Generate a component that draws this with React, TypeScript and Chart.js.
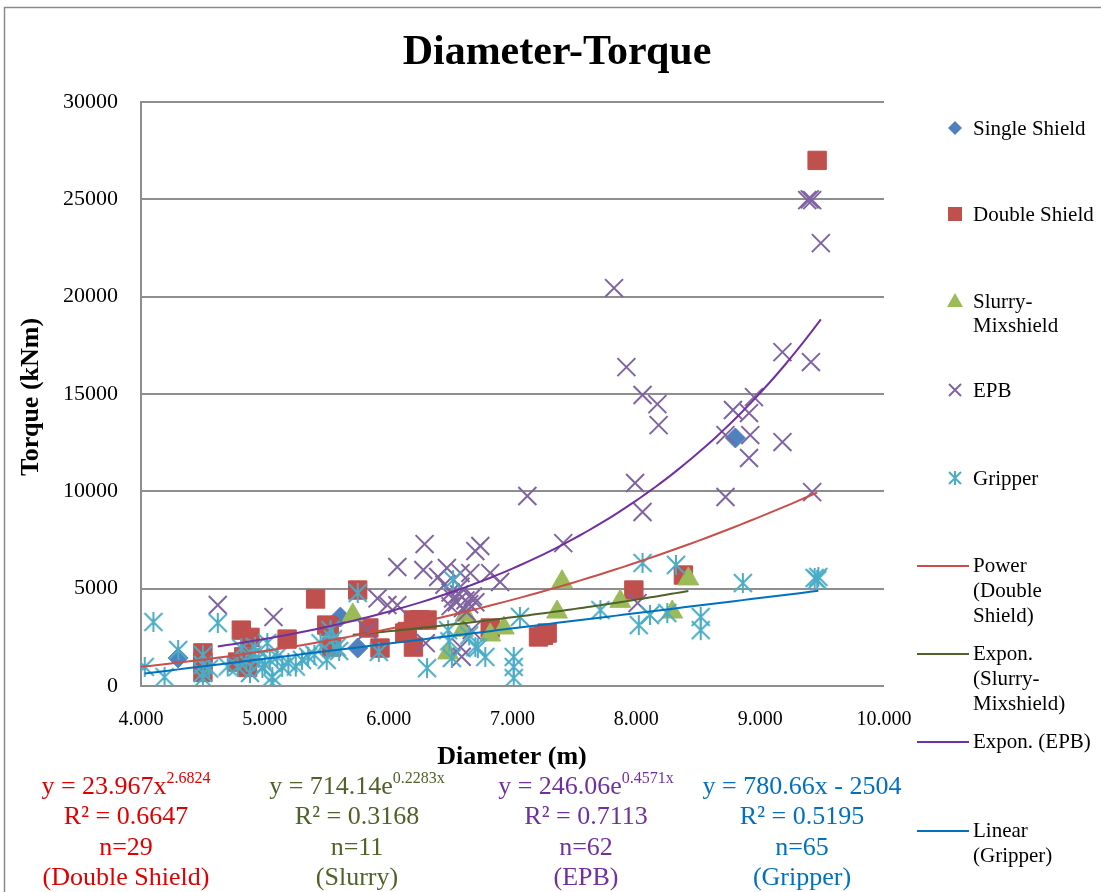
import React, { useEffect, useRef } from 'react';
import { Chart, registerables } from 'chart.js';

Chart.register(...registerables);

// ---------- data ----------
const singleShieldX = [4.30, 5.61, 5.75, 8.80];
const singleShieldY = [1440, 3540, 1950, 12740];

const doubleShieldX = [4.50, 4.50, 4.50, 4.81, 4.88, 4.78, 4.86, 5.18, 5.41, 5.50, 5.54, 5.75, 5.84, 5.93, 6.13, 6.20, 6.20, 6.31, 6.82, 7.21, 7.28, 7.98, 8.38, 9.46, 6.25, 5.52, 4.83, 7.25, 6.15];
const doubleShieldY = [1700, 700, 1200, 2870, 2500, 1230, 950, 2410, 4470, 3130, 2000, 4930, 2980, 1950, 2720, 2000, 3390, 3390, 2980, 2520, 2720, 4930, 5700, 27000, 3400, 3050, 1500, 2600, 2800];

const slurryX = [5.71, 6.48, 6.60, 6.62, 6.82, 6.93, 7.36, 7.40, 7.87, 8.29, 8.42];
const slurryY = [3650, 1700, 2870, 3650, 2620, 2980, 3800, 5350, 4350, 3800, 5500];

const epbX = [4.62, 5.07, 5.83, 5.91, 5.99, 6.07, 6.07, 6.28, 6.29, 6.30, 6.47, 6.58, 6.66, 6.70, 6.74, 6.82, 6.90, 6.59, 6.58, 6.67,
  6.45, 6.50, 6.52, 6.55, 6.57, 6.60, 6.62, 6.65, 6.68, 6.50, 6.58, 6.63, 6.40, 6.70,
  7.12, 7.41, 7.82, 7.92, 7.99, 8.01, 8.05, 8.05, 8.17, 8.18, 8.72, 8.72, 8.78, 8.91, 8.92, 8.91, 8.95, 9.18, 9.18, 9.38, 9.42, 9.40, 9.41, 9.42, 9.49];
const epbY = [4160, 3540, 2870, 4500, 4160, 6110, 4150, 5960, 7290, 2200, 6060, 5800, 5800, 6930, 7190, 5800, 5340, 1500, 2000, 2870,
  5200, 4800, 4500, 4300, 4700, 4000, 4400, 4200, 4600, 4100, 5100, 3800, 5600, 4300,
  9760, 7340, 20440, 16380, 10430, 4260, 14950, 8940, 14480, 13400, 12890, 9710, 14180, 14020, 12890, 11710, 14840, 12530, 17150, 24960, 24960, 25000, 16640, 9960, 22750];

const gripperX = [4.03, 4.10, 4.19, 4.30, 4.50, 4.50, 4.50, 4.50, 4.62, 4.81, 4.78, 4.88, 4.95, 4.98, 5.02, 5.04, 5.06, 5.06, 5.14, 5.19, 5.30, 5.50, 5.53, 5.58, 5.75, 5.92, 6.31, 6.51, 6.52, 6.48, 6.70, 6.72, 6.78, 7.06, 7.01, 7.01, 7.01, 7.71, 8.05, 8.32, 8.86, 9.44, 9.47, 9.46, 8.02, 8.11, 8.25, 8.52, 8.52,
  4.90, 5.00, 5.10, 4.92, 4.85, 5.40, 5.60, 4.70, 5.25, 5.45, 5.55, 6.49, 6.65, 4.55, 5.35];
const gripperY = [980, 3290, 460, 1850, 1590, 1080, 670, 400, 3240, 1940, 980, 670, 1440, 920, 2210, 1340, 460, 150, 980, 1180, 1340, 1340, 2870, 2000, 4780, 1750, 920, 1440, 5440, 2870, 2000, 1950, 1490, 3550, 1490, 980, 410, 3900, 6320, 6220, 5290, 5550, 5600, 5450, 3130, 3650, 3750, 3550, 2870,
  1600, 1100, 1500, 2000, 1250, 1600, 1800, 1000, 1000, 2200, 2400, 2300, 2600, 900, 1500];

// trendline coefficients and x-ranges
const powerDoubleCoef = [23.967, 2.6824];
const powerDoubleRange = [4.0, 9.46];
const expSlurryCoef = [714.14, 0.2283];
const expSlurryRange = [5.71, 8.42];
const expEpbCoef = [246.06, 0.4571];
const expEpbRange = [4.62, 9.49];
const linGripperCoef = [780.66, -2504];
const linGripperRange = [4.03, 9.47];

const xTicks = [4, 5, 6, 7, 8, 9, 10];
const yTicks = [0, 5000, 10000, 15000, 20000, 25000, 30000];

const titleText = 'Diameter-Torque';
const xTitle = 'Diameter (m)';
const yTitle = 'Torque (kNm)';

const fitEquations = [
  ['y = 23.967x', '2.6824'],
  ['y = 714.14e', '0.2283x'],
  ['y = 246.06e', '0.4571x'],
  ['y = 780.66x - 2504', ''],
];
const fitR2 = ['R² = 0.6647', 'R² = 0.3168', 'R² = 0.7113', 'R² = 0.5195'];
const fitN = ['n=29', 'n=11', 'n=62', 'n=65'];
const fitNames = ['(Double Shield)', '(Slurry)', '(EPB)', '(Gripper)'];

const legendMarkerLabels = [['Single Shield'], ['Double Shield'], ['Slurry-', 'Mixshield'], ['EPB'], ['Gripper']];
const legendLineLabels = [['Power', '(Double', 'Shield)'], ['Expon.', '(Slurry-', 'Mixshield)'], ['Expon. (EPB)'], ['Linear', '(Gripper)']];

// ---------- styles ----------
const C_SINGLE = '#4f81bd';
const C_DOUBLE = '#c0504d';
const C_SLURRY = '#9bbb59';
const C_EPB = '#8064a2';
const C_GRIP = '#4bacc6';
const L_DOUBLE = '#c9504a';
const L_SLURRY = '#4f6228';
const L_EPB = '#7030a0';
const L_GRIP = '#0070c0';
const TXT_COLORS = ['#e00000', '#4f6228', '#7030a0', '#0070c0'];
const FONT = '"Liberation Serif", "Times New Roman", serif';

function pts(xs: number[], ys: number[]) {
  return xs.map((x, i) => ({ x, y: ys[i] }));
}

function sampleCurve(f: (x: number) => number, range: number[]) {
  const out: { x: number; y: number }[] = [];
  const n = 80;
  for (let i = 0; i <= n; i++) {
    const x = range[0] + ((range[1] - range[0]) * i) / n;
    out.push({ x, y: f(x) });
  }
  return out;
}

function makeAsterisk(size: number, color: string, lw: number) {
  const c = document.createElement('canvas');
  c.width = size;
  c.height = size;
  const g = c.getContext('2d')!;
  g.strokeStyle = color;
  g.lineWidth = lw;
  const h = size / 2;
  const r = h - 1;
  const d = r * 0.9;
  g.beginPath();
  g.moveTo(h, h - r);
  g.lineTo(h, h + r);
  g.moveTo(h - d, h - d);
  g.lineTo(h + d, h + d);
  g.moveTo(h + d, h - d);
  g.lineTo(h - d, h + d);
  g.stroke();
  return c;
}

function drawRuns(ctx: CanvasRenderingContext2D, cx: number, cy: number, base: string, sup: string, size: number) {
  const supSize = Math.round(size * 0.62);
  ctx.font = `${size}px ${FONT}`;
  const w1 = ctx.measureText(base).width;
  ctx.font = `${supSize}px ${FONT}`;
  const w2 = sup ? ctx.measureText(sup).width : 0;
  const start = cx - (w1 + w2) / 2;
  ctx.textAlign = 'left';
  ctx.textBaseline = 'middle';
  ctx.font = `${size}px ${FONT}`;
  ctx.fillText(base, start, cy);
  if (sup) {
    ctx.font = `${supSize}px ${FONT}`;
    ctx.fillText(sup, start + w1, cy - size * 0.32);
  }
}

const overlayPlugin = {
  id: 'overlay',
  afterDraw(chart: any) {
    const ctx: CanvasRenderingContext2D = chart.ctx;
    ctx.save();
    // outer frame
    ctx.strokeStyle = '#8a8a8a';
    ctx.lineWidth = 1.5;
    ctx.beginPath();
    ctx.moveTo(4.5, 892);
    ctx.lineTo(4.5, 7.5);
    ctx.lineTo(1101, 7.5);
    ctx.stroke();

    ctx.fillStyle = '#000';
    // title
    ctx.font = `bold 42px ${FONT}`;
    ctx.textAlign = 'center';
    ctx.textBaseline = 'middle';
    ctx.fillText(titleText, 557, 53);

    // axis titles
    ctx.font = `bold 26px ${FONT}`;
    ctx.fillText(xTitle, 512, 757);
    ctx.save();
    ctx.translate(31, 397);
    ctx.rotate(-Math.PI / 2);
    ctx.fillText(yTitle, 0, 0);
    ctx.restore();

    // legend markers
    const mx = 955;
    const tx = 973;
    const markerY = [128, 214, 301, 390, 478];
    ctx.font = `21px ${FONT}`;
    ctx.textAlign = 'left';
    ctx.textBaseline = 'middle';
    legendMarkerLabels.forEach((lines, i) => {
      lines.forEach((t, j) => {
        ctx.fillStyle = '#000';
        ctx.fillText(t, tx, markerY[i] + 1 + j * 24);
      });
    });
    const y0 = markerY;
    // diamond
    ctx.fillStyle = C_SINGLE;
    ctx.beginPath();
    ctx.moveTo(mx, y0[0] - 7);
    ctx.lineTo(mx + 7, y0[0]);
    ctx.lineTo(mx, y0[0] + 7);
    ctx.lineTo(mx - 7, y0[0]);
    ctx.closePath();
    ctx.fill();
    // square
    ctx.fillStyle = C_DOUBLE;
    ctx.fillRect(mx - 7, y0[1] - 7, 14, 14);
    // triangle
    ctx.fillStyle = C_SLURRY;
    ctx.beginPath();
    ctx.moveTo(mx, y0[2] - 8);
    ctx.lineTo(mx + 8, y0[2] + 6);
    ctx.lineTo(mx - 8, y0[2] + 6);
    ctx.closePath();
    ctx.fill();
    // X
    ctx.strokeStyle = C_EPB;
    ctx.lineWidth = 2;
    ctx.beginPath();
    ctx.moveTo(mx - 6, y0[3] - 6);
    ctx.lineTo(mx + 6, y0[3] + 6);
    ctx.moveTo(mx + 6, y0[3] - 6);
    ctx.lineTo(mx - 6, y0[3] + 6);
    ctx.stroke();
    // asterisk
    ctx.strokeStyle = C_GRIP;
    ctx.beginPath();
    ctx.moveTo(mx, y0[4] - 7);
    ctx.lineTo(mx, y0[4] + 7);
    ctx.moveTo(mx - 6, y0[4] - 6);
    ctx.lineTo(mx + 6, y0[4] + 6);
    ctx.moveTo(mx + 6, y0[4] - 6);
    ctx.lineTo(mx - 6, y0[4] + 6);
    ctx.stroke();

    // legend lines
    const lineY = [566, 654, 742, 831];
    const lineCols = [L_DOUBLE, L_SLURRY, L_EPB, L_GRIP];
    legendLineLabels.forEach((lines, i) => {
      ctx.strokeStyle = lineCols[i];
      ctx.lineWidth = 2;
      ctx.beginPath();
      ctx.moveTo(917, lineY[i]);
      ctx.lineTo(969, lineY[i]);
      ctx.stroke();
      ctx.fillStyle = '#000';
      ctx.font = `21px ${FONT}`;
      ctx.textAlign = 'left';
      lines.forEach((t, j) => ctx.fillText(t, tx, lineY[i] + j * 25));
    });

    // fit annotations
    const colX = [126, 357, 586, 802];
    const rowY = [787, 817, 848, 878];
    for (let i = 0; i < 4; i++) {
      ctx.fillStyle = TXT_COLORS[i];
      drawRuns(ctx, colX[i], rowY[0], fitEquations[i][0], fitEquations[i][1], 26);
      drawRuns(ctx, colX[i], rowY[1], fitR2[i], '', 26);
      drawRuns(ctx, colX[i], rowY[2], fitN[i], '', 26);
      drawRuns(ctx, colX[i], rowY[3], fitNames[i], '', 26);
    }
    ctx.restore();
  },
};

export default function App() {
  const ref = useRef<HTMLCanvasElement | null>(null);
  useEffect(() => {
    if (!ref.current) return;
    const asterisk = makeAsterisk(22, C_GRIP, 2);
    const chart = new Chart(ref.current, {
      type: 'scatter',
      data: {
        datasets: [
          {
            label: 'Power (Double Shield)',
            data: sampleCurve((x) => powerDoubleCoef[0] * Math.pow(x, powerDoubleCoef[1]), powerDoubleRange),
            showLine: true, borderColor: L_DOUBLE, borderWidth: 2, pointRadius: 0, order: 0,
          },
          {
            label: 'Expon. (Slurry-Mixshield)',
            data: sampleCurve((x) => expSlurryCoef[0] * Math.exp(expSlurryCoef[1] * x), expSlurryRange),
            showLine: true, borderColor: L_SLURRY, borderWidth: 2, pointRadius: 0, order: 0,
          },
          {
            label: 'Expon. (EPB)',
            data: sampleCurve((x) => expEpbCoef[0] * Math.exp(expEpbCoef[1] * x), expEpbRange),
            showLine: true, borderColor: L_EPB, borderWidth: 2, pointRadius: 0, order: 0,
          },
          {
            label: 'Linear (Gripper)',
            data: sampleCurve((x) => linGripperCoef[0] * x + linGripperCoef[1], linGripperRange),
            showLine: true, borderColor: L_GRIP, borderWidth: 2, pointRadius: 0, order: 0,
          },
          {
            label: 'Gripper', data: pts(gripperX, gripperY), pointStyle: asterisk as any,
            pointRadius: 10, borderColor: C_GRIP, backgroundColor: C_GRIP, order: 1,
          },
          {
            label: 'EPB', data: pts(epbX, epbY), pointStyle: 'crossRot', pointRadius: 12.7,
            borderColor: C_EPB, borderWidth: 2, order: 2,
          },
          {
            label: 'Slurry-Mixshield', data: pts(slurryX, slurryY), pointStyle: 'triangle', pointRadius: 12,
            backgroundColor: C_SLURRY, borderColor: C_SLURRY, borderWidth: 1, order: 3,
          },
          {
            label: 'Double Shield', data: pts(doubleShieldX, doubleShieldY), pointStyle: 'rect', pointRadius: 13,
            backgroundColor: C_DOUBLE, borderColor: C_DOUBLE, borderWidth: 1, order: 4,
          },
          {
            label: 'Single Shield', data: pts(singleShieldX, singleShieldY), pointStyle: 'rectRot', pointRadius: 10,
            backgroundColor: C_SINGLE, borderColor: C_SINGLE, borderWidth: 1, order: 5,
          },
        ],
      },
      options: {
        animation: false,
        responsive: false,
        devicePixelRatio: 1,
        layout: { padding: { top: 102, right: 217, bottom: 0, left: 0 } },
        plugins: { legend: { display: false }, tooltip: { enabled: false }, title: { display: false } },
        scales: {
          x: {
            type: 'linear', min: 4, max: 10,
            afterFit: (s: any) => { s.height = 206; },
            afterBuildTicks: (s: any) => { s.ticks = xTicks.map((v) => ({ value: v })); },
            grid: { display: false, drawTicks: false },
            border: { display: false },
            ticks: {
              padding: 22, color: '#000', font: { family: FONT, size: 20 },
              callback: (v: any) => Number(v).toFixed(3),
            },
          },
          y: {
            type: 'linear', min: 0, max: 30000,
            afterFit: (s: any) => { s.width = 141; },
            afterBuildTicks: (s: any) => { s.ticks = yTicks.map((v) => ({ value: v })); },
            grid: { color: '#8e8e8e', lineWidth: 2, drawTicks: false },
            border: { display: true, color: '#8e8e8e', width: 2 },
            ticks: {
              padding: 23, color: '#000', font: { family: FONT, size: 22 },
              callback: (v: any) => String(v),
            },
          },
        },
      },
      plugins: [overlayPlugin],
    } as any);
    return () => chart.destroy();
  }, []);
  return (
    <div style={{ position: 'absolute', left: 0, top: 0, width: 1101, height: 892, background: '#fff' }}>
      <canvas ref={ref} width={1101} height={892} style={{ display: 'block' }} />
    </div>
  );
}
